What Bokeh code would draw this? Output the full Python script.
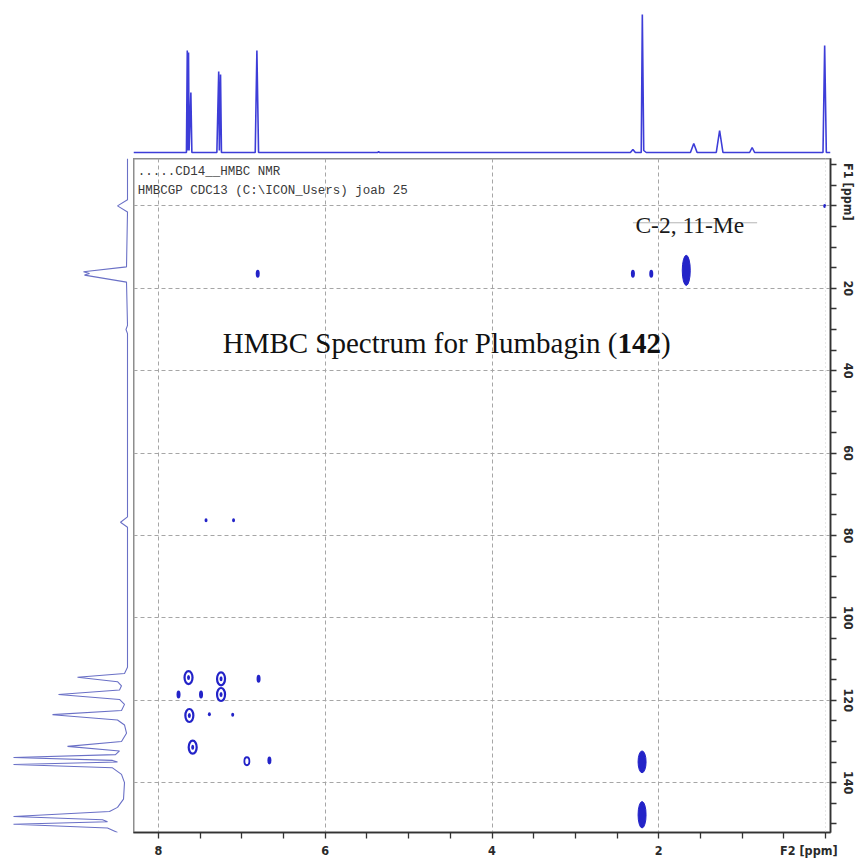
import math
from bokeh.plotting import figure
from bokeh.models import Range1d, FixedTicker, Label, Span, Spacer
from bokeh.layouts import column, row
from bokeh.embed import file_html
from bokeh.resources import INLINE

# ---------------- data ----------------
f2_labels = {8: "8", 6: "6", 4: "4", 2: "2", 0.2: "F2 [ppm]"}
f2_minor = [8.0, 7.5, 7.0, 6.5, 6.0, 5.5, 5.0, 4.5, 4.0, 3.5, 3.0, 2.5, 2.0, 1.5, 1.0, 0.5, 0.0]
f2_grid = [8, 6, 4, 2]
f1_labels = {-3.4: "F1 [ppm]", 20: "20", 40: "40", 60: "60", 80: "80", 100: "100",
             120: "120", 140: "140"}
f1_minor = [-10, -5, 0, 5, 10, 15, 20, 25, 30, 35, 40, 45, 50, 55, 60, 65, 70, 75, 80, 85,
            90, 95, 100, 105, 110, 115, 120, 125, 130, 135, 140, 145, 150]
f1_grid = [0, 20, 40, 60, 80, 100, 120, 140]

# 1H projection (F2 ppm, intensity)
proton_ppm = [8.30, 7.70, 7.665, 7.655, 7.648, 7.640, 7.633, 7.612, 7.600, 7.30, 7.278, 7.270,
              7.256, 7.245, 6.84, 6.820, 6.80, 5.37, 5.36, 5.35, 2.34, 2.31, 2.28, 2.21, 2.197,
              2.18, 2.15, 1.62, 1.58, 1.54, 1.31, 1.27, 1.23, 0.91, 0.88, 0.85, 0.03, 0.010,
              -0.01, -0.06]
proton_int = [0, 0, 0, 102, 2, 100, 2, 60, 0, 0, 81, 2, 78, 0, 0, 102, 0, 0, 1, 0, 0, 3, 0, 0,
              138, 2, 0, 0, 9, 0, 0, 22, 0, 0, 5, 0, 0, 107, 0, 0]

# 13C projection (F1 ppm, intensity)
carbon_ppm = [-11.5, -1.5, 0.0, 1.5, 14.8, 16.0, 16.4, 16.8, 18.5, 29.0, 30.0, 31.0, 75.5, 76.8,
              78.0, 112.0, 113.5, 114.4, 115.5, 116.5, 117.5, 118.6, 119.8, 121.0, 122.5,
              123.5, 124.8, 126.0, 128.0, 130.0, 131.2, 132.3, 133.2, 133.9, 134.6, 135.0,
              135.6, 136.4, 138.0, 140.0, 144.0, 146.0, 147.0, 148.2, 149.0, 149.5, 150.1,
              151.0, 152.1]
carbon_int = [0, 0, 10, 0, 1, 44, 38, 43, 1, 0, 1.5, 0, 0, 7, 0, 0, 3, 50, 10, 6, 8, 69, 8, 3,
              6, 75, 10, 3, 1, 6, 60, 8, 12, 114, 15, 10, 114, 15, 6, 3, 4, 10, 18, 114, 25,
              20, 114, 20, 10]

# HMBC cross peaks (F2 ppm, F1 ppm)
ring_f2 = [7.64, 7.25, 7.25, 7.63, 7.59]
ring_f1 = [114.5, 114.8, 118.6, 123.7, 131.4]
small_ring_f2 = [6.94]
small_ring_f1 = [134.8]
dot_f2 = [6.80, 7.76, 7.49, 6.67, 6.81, 2.31, 2.09]
dot_f1 = [114.8, 118.6, 118.6, 134.6, 16.5, 16.5, 16.5]
weak_f2 = [7.39, 7.11, 7.43, 7.10, 0.01]
weak_f1 = [123.4, 123.5, 76.3, 76.3, 0.0]
streak_f2 = [1.67, 2.20, 2.20]
streak_lo = [12.0, 132.3, 144.6]
streak_hi = [19.3, 137.6, 151.0]

header_lines = [".....CD14__HMBC NMR", "HMBCGP CDC13 (C:\\ICON_Users) joab 25"]

# ---------------- styles ----------------
BLUE = "#2323c8"
AX_FONT = "DejaVu Sans Condensed"
xr = Range1d(8.30, -0.06)
yr = Range1d(152.1, -11.5)

LEFT_W = 133
FRAME_W = 697
RIGHT_B = 30
TOP_H = 158
FRAME_H = 674
BOTTOM_B = 33

# ---------------- main 2D ----------------
p = figure(width=FRAME_W + RIGHT_B, height=FRAME_H + BOTTOM_B, x_range=xr, y_range=yr,
           output_backend="svg", toolbar_location=None, y_axis_location="right",
           min_border_left=0, min_border_top=0, min_border_right=RIGHT_B,
           min_border_bottom=BOTTOM_B)
p.background_fill_color = "white"
p.border_fill_color = "white"
p.outline_line_color = "#8e8e8e"
p.outline_line_width = 2

p.xaxis.ticker = FixedTicker(ticks=list(f2_labels.keys()), minor_ticks=f2_minor)
p.xaxis.major_label_overrides = f2_labels
p.yaxis.ticker = FixedTicker(ticks=list(f1_labels.keys()), minor_ticks=f1_minor)
p.yaxis.major_label_overrides = f1_labels
for ax in (p.xaxis[0], p.yaxis[0]):
    ax.axis_line_color = "#333333"
    ax.axis_line_width = 1.5
    ax.major_tick_line_color = None
    ax.minor_tick_line_color = "#333333"
    ax.minor_tick_line_width = 1.3
    ax.major_tick_in = 0
    ax.major_tick_out = 6
    ax.minor_tick_in = 0
    ax.minor_tick_out = 6
    ax.major_label_text_font = AX_FONT
    ax.major_label_text_font_style = "bold"
    ax.major_label_text_font_size = "12.5px"
    ax.major_label_text_color = "#2a2a2a"
    ax.major_label_standoff = 4
p.yaxis.major_label_orientation = "parallel"

p.xgrid.ticker = FixedTicker(ticks=f2_grid)
p.ygrid.ticker = FixedTicker(ticks=f1_grid)
for g in (p.xgrid[0], p.ygrid[0]):
    g.grid_line_color = "#a6a6a6"
    g.grid_line_dash = "4 3"
    g.grid_line_width = 1

p.add_layout(Span(location=0, dimension="height", line_color="#cfcfcf",
                  line_dash="1 3", line_width=1))

# cross peaks
p.ellipse(ring_f2, ring_f1, width=8, height=13, width_units="screen", height_units="screen",
          fill_color=None, line_color=BLUE, line_width=2.2)
p.ellipse(ring_f2, ring_f1, width=3, height=5, width_units="screen", height_units="screen",
          fill_color=BLUE, line_color=None)
p.ellipse(small_ring_f2, small_ring_f1, width=5, height=8, width_units="screen",
          height_units="screen", fill_color=None, line_color=BLUE, line_width=1.8)
p.ellipse(dot_f2, dot_f1, width=4, height=8, width_units="screen", height_units="screen",
          fill_color=BLUE, line_color=None)
p.ellipse(weak_f2, weak_f1, width=3, height=4, width_units="screen", height_units="screen",
          fill_color=BLUE, line_color=None)
streak_mid = [(a + b) / 2 for a, b in zip(streak_lo, streak_hi)]
streak_len = [b - a for a, b in zip(streak_lo, streak_hi)]
p.ellipse(streak_f2, streak_mid, width=8, height=streak_len, width_units="screen",
          height_units="data", fill_color=BLUE, line_color=BLUE, line_width=1)

# texts
for i, t in enumerate(header_lines):
    p.add_layout(Label(x=8.25, y=[-8.3, -3.7][i], text=t, text_font="Liberation Mono",
                       text_font_size="12.5px", text_color="#3a3a3a", text_align="left",
                       text_baseline="middle"))

TF = 29
title_x, title_y = 7.23, 33.4
p.add_layout(Label(x=title_x, y=title_y, text="HMBC Spectrum for Plumbagin (",
                   text_font="Liberation Serif", text_font_size=f"{TF}px",
                   text_color="#111111", text_align="left", text_baseline="alphabetic"))
p.add_layout(Label(x=title_x, y=title_y, x_offset=13.611 * TF, text="142",
                   text_font="Liberation Serif", text_font_style="bold",
                   text_font_size=f"{TF}px", text_color="#111111", text_align="left",
                   text_baseline="alphabetic"))
p.add_layout(Label(x=title_x, y=title_y, x_offset=15.111 * TF, text=")",
                   text_font="Liberation Serif", text_font_size=f"{TF}px",
                   text_color="#111111", text_align="left", text_baseline="alphabetic"))

p.segment(x0=[2.31], y0=[4.1], x1=[0.82], y1=[4.1], line_color="#b5b5b5", line_width=1)
p.add_layout(Label(x=2.28, y=4.7, text="C-2, 11-Me", text_font="Liberation Serif",
                   text_font_size="23.5px", text_color="#1a1a1a", text_align="left",
                   text_baseline="alphabetic"))

# ---------------- top 1H projection ----------------
pt = figure(width=FRAME_W + RIGHT_B, height=TOP_H, x_range=xr, y_range=Range1d(-6, 152),
            output_backend="svg", toolbar_location=None, x_axis_location=None,
            y_axis_location=None, min_border_left=0, min_border_top=0,
            min_border_right=RIGHT_B, min_border_bottom=0)
pt.outline_line_color = None
pt.xgrid.visible = False
pt.ygrid.visible = False
pt.line(proton_ppm, proton_int, line_color="#3d3dd8", line_width=1.6)

# ---------------- left 13C projection ----------------
pl = figure(width=LEFT_W, height=FRAME_H + BOTTOM_B, x_range=Range1d(127, -6), y_range=yr,
            output_backend="svg", toolbar_location=None, x_axis_location=None,
            y_axis_location=None, min_border_left=0, min_border_top=0,
            min_border_right=0, min_border_bottom=BOTTOM_B)
pl.outline_line_color = None
pl.xgrid.visible = False
pl.ygrid.visible = False
pl.line(carbon_int, carbon_ppm, line_color="#6a70c6", line_width=1.1)

layout = column(row(Spacer(width=LEFT_W, height=TOP_H), pt), row(pl, p))

open("out.html", "w").write(file_html(layout, INLINE))
